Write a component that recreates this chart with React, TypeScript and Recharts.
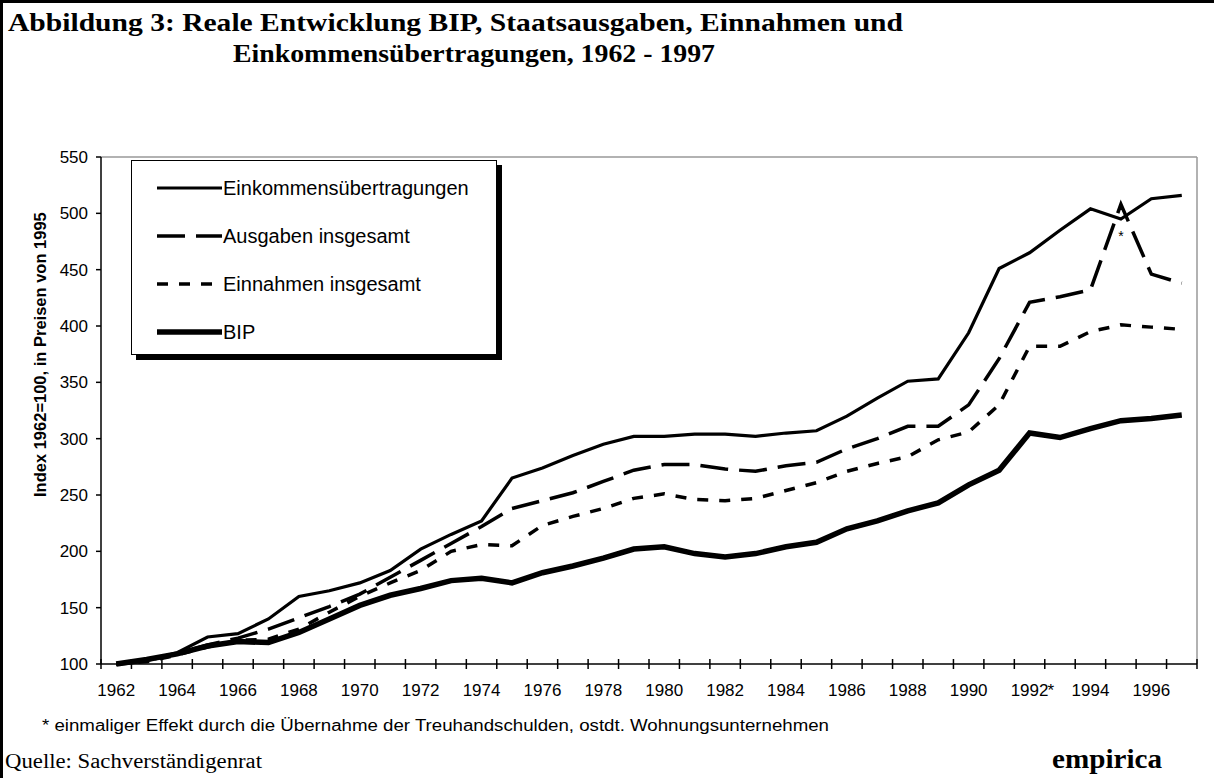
import { LineChart, Line, XAxis, YAxis, ReferenceLine, ReferenceDot, Legend, Label } from "recharts";

const years = [
  1962, 1963, 1964, 1965, 1966, 1967, 1968, 1969, 1970, 1971, 1972, 1973,
  1974, 1975, 1976, 1977, 1978, 1979, 1980, 1981, 1982, 1983, 1984, 1985,
  1986, 1987, 1988, 1989, 1990, 1991, 1992, 1993, 1994, 1995, 1996, 1997,
];
const einkommen = [
  100, 103, 110, 124, 127, 140, 160, 165, 172, 183, 202, 215,
  227, 265, 274, 285, 295, 302, 302, 304, 304, 302, 305, 307,
  320, 336, 351, 353, 394, 451, 465, 485, 504, 495, 513, 516,
];
const ausgaben = [
  100, 103, 109, 117, 123, 131, 141, 151, 162, 177, 192, 207,
  222, 238, 245, 252, 262, 272, 277, 277, 273, 271, 276, 279,
  291, 300, 311, 311, 330, 371, 421, 426, 432, 508, 446, 438,
];
const einnahmen = [
  100, 102, 108, 115, 121, 122, 131, 146, 160, 172, 183, 200,
  206, 205, 223, 231, 238, 247, 251, 246, 245, 247, 254, 261,
  271, 278, 284, 299, 306, 330, 382, 382, 395, 401, 399, 397,
];
const bip = [
  100, 104, 109, 116, 120, 119, 128, 140, 152, 161, 167, 174,
  176, 172, 181, 187, 194, 202, 204, 198, 195, 198, 204, 208,
  220, 227, 236, 243, 259, 272, 305, 301, 309, 316, 318, 321,
];
const yTicks = [100, 150, 200, 250, 300, 350, 400, 450, 500, 550];
const labelYears = [1962, 1964, 1966, 1968, 1970, 1972, 1974, 1976, 1978, 1980, 1982, 1984, 1986, 1988, 1990, 1992, 1994, 1996];
const starredYear = 1992;
const starMark = { year: 1995, value: 480 };

const data = years.map((year, i) => ({
  year,
  einkommen: einkommen[i],
  ausgaben: ausgaben[i],
  einnahmen: einnahmen[i],
  bip: bip[i],
}));

const series = [
  { key: "einkommen", name: "Einkommensübertragungen", width: 3.2, dash: undefined },
  { key: "ausgaben", name: "Ausgaben insgesamt", width: 3.5, dash: "28 11" },
  { key: "einnahmen", name: "Einnahmen insgesamt", width: 3.5, dash: "11 11" },
  { key: "bip", name: "BIP", width: 5.5, dash: undefined },
];

const ARIAL = "Arial, 'Liberation Sans', sans-serif";
const TIMES = "'Times New Roman', 'Liberation Serif', serif";
const PLOT_LEFT = 101;
const PLOT_RIGHT = 1197;
const STEP = (PLOT_RIGHT - PLOT_LEFT) / years.length;

function YearTick(props: any) {
  const { x, y, payload, index } = props;
  const v = payload.value;
  const showLabel = labelYears.includes(v);
  return (
    <g>
      <line x1={x - STEP / 2} x2={x - STEP / 2} y1={y - 5} y2={y + 5} stroke="#000" strokeWidth={1.5} />
      {index === years.length - 1 && (
        <line x1={x + STEP / 2} x2={x + STEP / 2} y1={y - 5} y2={y + 5} stroke="#000" strokeWidth={1.5} />
      )}
      {showLabel && (
        <text x={x} y={y + 32} textAnchor="middle" fontSize={17} fontFamily={ARIAL} fill="#000">
          {v}
        </text>
      )}
      {v === starredYear && (
        <text x={x + 18} y={y + 32} fontSize={17} fontFamily={ARIAL} fill="#000">*</text>
      )}
    </g>
  );
}

function LegendBox() {
  return (
    <div
      style={{
        position: "relative",
        width: 364,
        height: 193,
        background: "#fff",
        border: "1px solid #000",
        boxShadow: "5px 5px 0 #000",
        fontFamily: ARIAL,
      }}
    >
      {series.map((s, i) => (
        <div
          key={s.key}
          style={{ position: "absolute", left: 25, top: 12 + i * 48, height: 30, display: "flex", alignItems: "center" }}
        >
          <svg width={66} height={10} style={{ display: "block" }}>
            <line x1={0} y1={5} x2={65} y2={5} stroke="#000" strokeWidth={s.width} strokeDasharray={s.dash} />
          </svg>
          <span style={{ fontSize: 20, color: "#000", whiteSpace: "nowrap" }}>{s.name}</span>
        </div>
      ))}
    </div>
  );
}

export default function App() {
  return (
    <div style={{ position: "absolute", left: 0, top: 0, width: 1214, height: 778, background: "#fff", overflow: "hidden" }}>
      <div style={{ position: "absolute", left: 0, top: 0, width: 1214, height: 3, background: "#000" }} />
      <div style={{ position: "absolute", left: 0, top: 0, width: 3, height: 778, background: "#000" }} />
      <svg width={1214} height={778} style={{ position: "absolute", left: 0, top: 0 }}>
        <text x={8} y={31} fontFamily={TIMES} fontWeight="bold" fontSize={26} textLength={895} lengthAdjust="spacingAndGlyphs">
          Abbildung 3: Reale Entwicklung BIP, Staatsausgaben, Einnahmen und
        </text>
        <text x={233} y={62} fontFamily={TIMES} fontWeight="bold" fontSize={26} textLength={482} lengthAdjust="spacingAndGlyphs">
          Einkommensübertragungen, 1962 - 1997
        </text>
        <text x={42} y={731} fontFamily={ARIAL} fontSize={16} textLength={787} lengthAdjust="spacingAndGlyphs">
          * einmaliger Effekt durch die Übernahme der Treuhandschulden, ostdt. Wohnungsunternehmen
        </text>
        <text x={5} y={768} fontFamily={TIMES} fontSize={20} textLength={257} lengthAdjust="spacingAndGlyphs">
          Quelle: Sachverständigenrat
        </text>
        <text x={1052} y={768} fontFamily={TIMES} fontWeight="bold" fontSize={27} textLength={110} lengthAdjust="spacingAndGlyphs">
          empirica
        </text>
      </svg>
      <div style={{ position: "absolute", left: 0, top: 0 }}>
        <LineChart width={1214} height={778} data={data} margin={{ top: 157, right: 1214 - PLOT_RIGHT, bottom: 74, left: PLOT_LEFT - 60 }}>
          <ReferenceLine y={550} stroke="#999" strokeWidth={1.5} />
          <ReferenceLine x={1997.5} stroke="#999" strokeWidth={1.5} />
          <XAxis
            dataKey="year"
            type="number"
            domain={[1961.5, 1997.5]}
            ticks={years}
            interval={0}
            height={40}
            tickSize={0}
            tickMargin={0}
            tickLine={false}
            axisLine={{ stroke: "#000", strokeWidth: 1.5 }}
            tick={(p: any) => <YearTick {...p} />}
          />
          <YAxis
            type="number"
            domain={[100, 550]}
            ticks={yTicks}
            interval={0}
            width={60}
            tickSize={5}
            tickMargin={8}
            axisLine={{ stroke: "#000", strokeWidth: 1.5 }}
            tickLine={{ stroke: "#000", strokeWidth: 1.5 }}
            tick={{ fontSize: 17, fill: "#000", fontFamily: ARIAL }}
          >
            <Label
              content={() => (
                <text
                  transform="translate(46, 497) rotate(-90)"
                  fontFamily={ARIAL}
                  fontWeight="bold"
                  fontSize={16.5}
                  fill="#000"
                >
                  Index 1962=100, in Preisen von 1995
                </text>
              )}
            />
          </YAxis>
          <Legend
            layout="vertical"
            align="center"
            verticalAlign="middle"
            content={() => <LegendBox />}
            wrapperStyle={{ position: "absolute", left: 131, top: 160, width: 366, height: 195 }}
          />
          {series.map((s) => (
            <Line
              key={s.key}
              dataKey={s.key}
              name={s.name}
              type="linear"
              stroke="#000"
              strokeWidth={s.width}
              strokeDasharray={s.dash}
              dot={false}
              activeDot={false}
              isAnimationActive={false}
            />
          ))}
          <ReferenceDot
            x={starMark.year}
            y={starMark.value}
            r={0}
            label={{ value: "*", position: "center", fontSize: 14, fill: "#000", fontFamily: ARIAL }}
          />
        </LineChart>
      </div>
    </div>
  );
}
